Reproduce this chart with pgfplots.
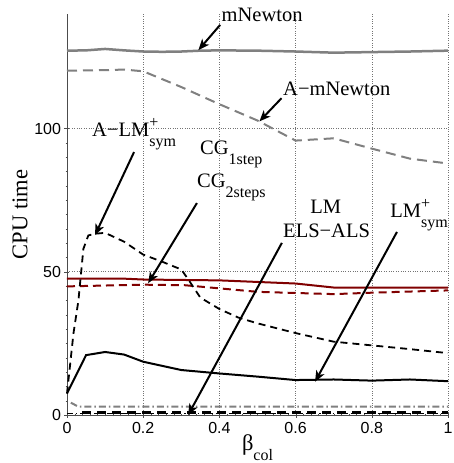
\documentclass[border=0pt]{standalone}
\usepackage{fontspec}
\setmainfont{Liberation Serif}
\setsansfont{Liberation Sans}
\usepackage{pgfplots}
\pgfplotsset{compat=1.18}
\usetikzlibrary{arrows.meta}
\definecolor{dred}{RGB}{128,0,0}
\definecolor{mgray}{RGB}{128,128,128}
\newcommand{\an}{\fontsize{20.5}{22}\selectfont}
\newcommand{\lsub}[1]{\raisebox{-10pt}{\fontsize{16}{16}\selectfont #1}}
\newcommand{\spsb}[2]{\rlap{\raisebox{9pt}{\fontsize{16}{16}\selectfont #1}}\raisebox{-10pt}{\fontsize{16}{16}\selectfont #2}}
\begin{document}
\begin{tikzpicture}[arr/.style={line width=2pt,-{Stealth[length=11pt,width=9pt,inset=3pt]}}]
\begin{axis}[
  scale only axis, width=381pt, height=401pt,
  xmin=0, xmax=1, ymin=0, ymax=140,
  clip=false,
  axis x line=bottom, axis y line=left,
  axis line style={-, line width=0.6pt, black!70},
  xtick={0,0.2,0.4,0.6,0.8,1}, ytick={0,50,100},
  minor x tick num=9, minor y tick num=9,
  tick style={black!70},
  major tick length=5pt, minor tick length=2.5pt,
  grid=major, major grid style={dotted, line width=0.6pt, black!55},
  /pgf/number format/assume math mode=true,
  tick label style={font=\sffamily\fontsize{16}{16}\selectfont},
  xticklabel style={yshift=-1pt},
  yticklabel style={xshift=0pt},
  xlabel={β\lsub{col}},
  ylabel={CPU time},
  every axis x label/.style={at={(rel axis cs:0.5,0)}, anchor=north, yshift=-19pt, inner sep=0pt, font=\fontsize{22.5}{24}\selectfont},
  every axis y label/.style={at={(rel axis cs:0,0.5)}, xshift=-47pt, rotate=90, anchor=center, inner sep=0pt, font=\fontsize{22.5}{24}\selectfont},
]
% mNewton
\addplot[mgray, line width=2.5pt] coordinates {(0,127.2)(0.05,127.3)(0.1,127.8)(0.15,127.3)(0.2,126.9)(0.25,126.8)(0.3,126.9)(0.35,127.2)(0.4,127.3)(0.5,127.2)(0.6,126.9)(0.7,126.5)(0.8,126.7)(0.9,126.9)(1,127.2)};
% A-mNewton
\addplot[mgray, line width=2pt, dash pattern=on 10pt off 6pt] coordinates {(0,120.2)(0.1,120.4)(0.15,120.6)(0.2,120)(0.3,114.5)(0.4,108.5)(0.5,102.8)(0.6,95.8)(0.7,96.6)(0.8,93)(0.9,89.5)(1,87.8)};
% CG 1step
\addplot[dred, line width=2pt] coordinates {(0,47.6)(0.15,47.6)(0.2,47.3)(0.4,47)(0.6,45.9)(0.7,44.5)(1,44.5)};
% CG 2steps
\addplot[dred, line width=2pt, dash pattern=on 8pt off 5pt] coordinates {(0,44.9)(0.2,45.5)(0.31,45.3)(0.5,43)(0.7,42.2)(0.8,42.7)(1,43.5)};
% A-LM+sym
\addplot[black, line width=1.8pt, dash pattern=on 7pt off 5pt] coordinates {(0,7.5)(0.017,28.5)(0.03,40)(0.043,58)(0.056,62.7)(0.075,63.3)(0.1,63.6)(0.15,60.5)(0.2,56)(0.25,53.5)(0.3,50.8)(0.32,47)(0.35,41)(0.4,37)(0.45,34)(0.5,32)(0.6,28.6)(0.7,25.6)(0.8,24.3)(0.9,23)(1,21.6)};
% LM+sym
\addplot[black, line width=2pt] coordinates {(0,7.5)(0.05,20.9)(0.1,22)(0.15,21.1)(0.2,18.6)(0.3,15.7)(0.4,14.5)(0.5,13.4)(0.6,12.2)(0.7,12.4)(0.8,12)(0.9,12.4)(1,11.8)};
% bottom lines
\addplot[mgray, line width=2pt, dash pattern=on 7pt off 3pt on 1.5pt off 3pt] coordinates {(0.01,4.3)(0.03,2.9)(1,2.9)};
\addplot[black, line width=1.2pt, dash pattern=on 6pt off 3pt on 1.5pt off 3pt] coordinates {(0,0.4)(1,0.4)};
\addplot[black, line width=2.6pt, dash pattern=on 9pt off 6pt] coordinates {(0.04,0.9)(1,0.9)};
% annotations
\node[anchor=base, inner sep=0pt, font=\an] at (axis cs:0.512,137.4) {mNewton};
\draw[arr] (axis cs:0.402,136.2) -- (axis cs:0.345,127.4);
\node[anchor=base west, inner sep=0pt, font=\an] at (axis cs:0.567,111.7) {A−mNewton};
\draw[arr] (axis cs:0.563,110.6) -- (axis cs:0.505,102.5);
\node[anchor=base west, inner sep=0pt, font=\an] at (axis cs:0.0656,97.4) {A−LM\spsb{+}{sym}};
\draw[arr] (axis cs:0.176,91.8) -- (axis cs:0.0735,62.8);
\node[anchor=base west, inner sep=0pt, font=\an] at (axis cs:0.349,91.1) {CG\lsub{1step}};
\node[anchor=base west, inner sep=0pt, font=\an] at (axis cs:0.341,79.3) {CG\lsub{2steps}};
\draw[arr] (axis cs:0.341,74.0) -- (axis cs:0.213,46.0);
\node[anchor=base west, inner sep=0pt, font=\an] at (axis cs:0.638,70.5) {LM};
\node[anchor=base west, inner sep=0pt, font=\an] at (axis cs:0.567,61.8) {ELS−ALS};
\draw[arr] (axis cs:0.564,60.1) -- (axis cs:0.318,0);
\node[anchor=base west, inner sep=0pt, font=\an] at (axis cs:0.848,69.1) {LM\spsb{+}{sym}};
\draw[arr] (axis cs:0.866,63.9) -- (axis cs:0.651,11.6);
\end{axis}
\pgfresetboundingbox
\path[use as bounding box] (-67pt,-48pt) rectangle (386pt,415pt);
\end{tikzpicture}
\end{document}
